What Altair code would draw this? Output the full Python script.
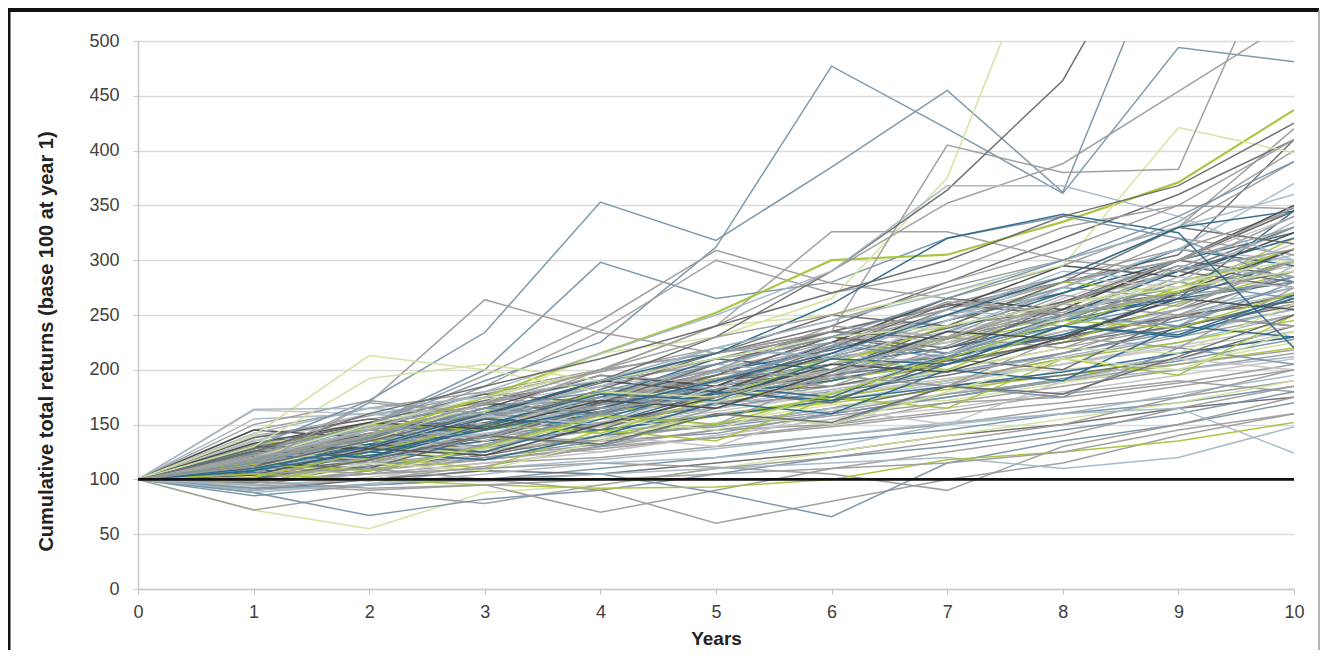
import altair as alt
import pandas as pd

years = list(range(11))

# ---- notable / outlier paths ----
outlier_values = [
    [100, 130, 172, 234, 353, 318, 385, 455, 362, 620, 700],
    [100, 118, 150, 190, 225, 312, 477, 420, 361, 494, 481],
    [100, 125, 150, 200, 298, 265, 280, 320, 340, 320, 280],
    [100, 118, 170, 264, 234, 215, 230, 255, 280, 300, 330],
    [100, 122, 150, 195, 245, 309, 279, 265, 250, 270, 300],
    [100, 115, 145, 185, 235, 300, 270, 290, 330, 350, 347],
    [100, 110, 140, 175, 200, 240, 326, 326, 300, 290, 310],
    [100, 115, 140, 175, 215, 252, 300, 305, 335, 371, 437],
    [100, 110, 135, 170, 215, 230, 265, 375, 640, 700, 700],
    [100, 120, 150, 175, 200, 240, 250, 270, 295, 421, 398],
    [100, 140, 213, 200, 180, 175, 200, 230, 260, 280, 300],
    [100, 130, 192, 205, 190, 210, 230, 240, 260, 275, 290],
    [100, 115, 140, 170, 200, 215, 235, 405, 380, 383, 620],
    [100, 112, 135, 160, 190, 230, 290, 364, 464, 650, 700],
    [100, 110, 130, 160, 200, 240, 290, 352, 388, 454, 520],
    [100, 120, 145, 180, 215, 250, 290, 368, 368, 340, 300],
    [100, 110, 130, 160, 190, 215, 260, 320, 342, 325, 220],
    [100, 72, 55, 88, 95, 110, 125, 140, 155, 170, 190],
    [100, 72, 88, 78, 95, 110, 120, 135, 150, 175, 200],
    [100, 88, 67, 82, 90, 105, 120, 130, 145, 160, 180],
    [100, 95, 90, 95, 70, 90, 110, 125, 140, 165, 185],
    [100, 105, 110, 100, 90, 60, 80, 100, 115, 140, 160],
    [100, 92, 95, 100, 105, 88, 66, 115, 135, 150, 170],
    [100, 98, 105, 110, 115, 111, 105, 90, 130, 150, 175],
    [100, 90, 95, 105, 115, 120, 130, 150, 160, 165, 124],
    [100, 95, 100, 98, 105, 110, 115, 120, 110, 120, 148],
    [100, 105, 100, 95, 92, 93, 100, 118, 125, 135, 152],
    [100, 98, 92, 95, 100, 105, 110, 115, 125, 145, 160],
    [100, 164, 165, 175, 190, 220, 245, 270, 300, 330, 360],
    [100, 125, 160, 185, 210, 240, 270, 300, 340, 368, 425],
    [100, 120, 140, 170, 200, 230, 250, 280, 310, 350, 410],
    [100, 115, 138, 165, 180, 205, 230, 265, 300, 340, 390],
    [100, 108, 125, 145, 165, 190, 215, 250, 285, 330, 345],
    [100, 112, 170, 160, 165, 175, 200, 230, 260, 300, 348],
]
outlier_colors = [
    "bg", "bg", "bg", "gray", "gray", "gray", "gray", "green", "pale", "pale",
    "pale", "pale", "gray", "graydk", "gray", "bgl", "teal", "pale", "gray", "bg",
    "gray", "gray", "bg", "gray", "bgl", "bgl", "green", "gray", "bgl", "graydk",
    "gray", "bg", "teal", "gray",
]

# ---- the dense bundle ----
bundle_values = [
    [100, 112, 125, 140, 152, 170, 185, 200, 220, 240, 260],
    [100, 95, 108, 120, 135, 142, 160, 175, 190, 215, 230],
    [100, 120, 135, 128, 150, 168, 190, 210, 235, 255, 285],
    [100, 105, 118, 130, 125, 140, 155, 178, 200, 210, 235],
    [100, 130, 145, 160, 175, 190, 205, 220, 240, 270, 300],
    [100, 92, 100, 112, 130, 145, 150, 170, 185, 200, 215],
    [100, 115, 140, 155, 165, 180, 210, 225, 245, 280, 310],
    [100, 108, 115, 132, 145, 160, 172, 188, 205, 225, 250],
    [100, 125, 150, 140, 165, 190, 200, 240, 255, 270, 290],
    [100, 102, 110, 118, 128, 138, 148, 160, 170, 185, 200],
    [100, 118, 130, 150, 170, 175, 195, 215, 230, 250, 275],
    [100, 135, 160, 170, 185, 200, 220, 240, 260, 290, 320],
    [100, 98, 105, 115, 120, 130, 140, 150, 165, 175, 190],
    [100, 110, 128, 145, 160, 182, 200, 230, 250, 265, 280],
    [100, 122, 138, 150, 148, 165, 180, 195, 215, 238, 265],
    [100, 88, 96, 110, 118, 128, 140, 152, 160, 178, 195],
    [100, 140, 155, 170, 190, 205, 230, 250, 280, 300, 345],
    [100, 112, 120, 135, 150, 158, 170, 182, 195, 205, 220],
    [100, 105, 125, 140, 158, 175, 192, 205, 225, 245, 270],
    [100, 128, 142, 165, 180, 200, 215, 235, 255, 275, 295],
    [100, 97, 112, 122, 140, 150, 165, 185, 195, 210, 240],
    [100, 118, 125, 138, 150, 170, 175, 190, 210, 230, 250],
    [100, 108, 135, 150, 170, 185, 205, 220, 245, 265, 300],
    [100, 115, 122, 130, 145, 150, 165, 178, 190, 200, 212],
    [100, 125, 140, 155, 178, 195, 210, 230, 250, 268, 280],
    [100, 103, 118, 128, 138, 152, 168, 172, 188, 205, 225],
    [100, 132, 150, 168, 172, 190, 212, 238, 262, 290, 330],
    [100, 110, 120, 138, 155, 165, 180, 198, 215, 235, 255],
    [100, 93, 102, 115, 125, 140, 155, 165, 180, 195, 210],
    [100, 120, 145, 160, 185, 210, 225, 250, 270, 300, 350],
    [100, 114, 130, 125, 140, 158, 175, 190, 210, 225, 245],
    [100, 107, 117, 140, 160, 178, 185, 205, 228, 250, 262],
    [100, 126, 135, 148, 165, 178, 198, 215, 232, 255, 275],
    [100, 100, 112, 120, 132, 145, 158, 170, 175, 188, 205],
    [100, 118, 140, 158, 175, 198, 218, 245, 270, 300, 325],
    [100, 109, 126, 130, 148, 162, 178, 192, 205, 222, 240],
    [100, 145, 165, 180, 200, 215, 235, 260, 285, 310, 345],
    [100, 104, 112, 125, 140, 148, 160, 175, 192, 208, 228],
    [100, 121, 132, 152, 168, 185, 200, 212, 230, 248, 268],
    [100, 112, 135, 145, 162, 172, 190, 208, 225, 260, 290],
    [100, 96, 108, 118, 130, 138, 150, 162, 178, 190, 180],
    [100, 128, 148, 172, 190, 210, 235, 258, 280, 305, 410],
    [100, 116, 128, 142, 155, 168, 182, 198, 212, 232, 255],
    [100, 106, 122, 135, 145, 158, 172, 185, 198, 215, 230],
    [100, 138, 158, 178, 198, 220, 245, 275, 300, 330, 390],
    [100, 111, 118, 132, 148, 165, 178, 190, 205, 220, 235],
    [100, 124, 140, 155, 168, 182, 195, 215, 240, 262, 285],
    [100, 101, 114, 126, 136, 150, 162, 178, 190, 205, 218],
    [100, 119, 137, 150, 165, 180, 195, 208, 225, 240, 258],
    [100, 131, 146, 162, 178, 192, 210, 228, 248, 272, 298],
    [100, 155, 160, 165, 175, 185, 205, 225, 250, 280, 305],
    [100, 163, 160, 150, 165, 180, 200, 215, 235, 250, 270],
    [100, 150, 172, 160, 175, 190, 210, 230, 255, 275, 310],
    [100, 85, 95, 100, 110, 120, 135, 145, 160, 170, 185],
    [100, 90, 100, 108, 105, 115, 125, 140, 150, 165, 175],
    [100, 113, 132, 148, 162, 178, 190, 212, 232, 265, 345],
    [100, 117, 127, 145, 175, 205, 230, 255, 285, 330, 420],
    [100, 123, 138, 160, 188, 215, 240, 280, 320, 360, 410],
    [100, 108, 128, 150, 172, 198, 222, 250, 275, 310, 370],
    [100, 114, 136, 156, 178, 200, 225, 265, 295, 335, 400],
    [100, 108, 98, 125, 140, 130, 165, 150, 190, 210, 200],
    [100, 125, 115, 140, 130, 160, 150, 185, 175, 220, 205],
    [100, 95, 120, 110, 145, 135, 175, 165, 210, 195, 250],
    [100, 130, 120, 155, 145, 180, 170, 210, 200, 250, 240],
    [100, 115, 135, 125, 160, 150, 195, 185, 230, 220, 275],
    [100, 100, 125, 118, 140, 170, 160, 200, 190, 240, 230],
    [100, 140, 130, 165, 150, 190, 215, 205, 250, 240, 295],
    [100, 110, 105, 130, 155, 145, 180, 200, 220, 215, 260],
    [100, 118, 142, 135, 170, 195, 230, 215, 260, 295, 280],
    [100, 132, 125, 160, 185, 175, 220, 250, 240, 285, 330],
    [100, 105, 140, 160, 150, 190, 205, 245, 275, 265, 310],
    [100, 122, 118, 148, 175, 210, 200, 235, 270, 310, 295],
    [100, 140, 150, 135, 165, 200, 235, 225, 265, 300, 340],
    [100, 112, 135, 170, 160, 185, 220, 260, 250, 290, 275],
    [100, 126, 150, 145, 180, 170, 205, 240, 280, 270, 320],
    [100, 98, 128, 150, 175, 165, 195, 230, 220, 255, 300],
    [100, 135, 160, 150, 190, 220, 210, 250, 290, 280, 335],
    [100, 115, 110, 140, 165, 195, 230, 220, 255, 300, 285],
    [100, 128, 145, 175, 165, 200, 240, 230, 275, 320, 305],
    [100, 108, 132, 125, 155, 185, 175, 215, 250, 290, 320],
    [100, 145, 138, 165, 195, 185, 225, 265, 255, 300, 350],
    [100, 118, 140, 165, 158, 190, 225, 215, 245, 280, 265],
    [100, 125, 118, 145, 178, 170, 205, 245, 285, 275, 315],
    [100, 102, 125, 150, 142, 175, 210, 200, 240, 275, 310],
    [100, 138, 155, 148, 182, 215, 250, 240, 280, 330, 315],
    [100, 112, 105, 132, 160, 192, 185, 222, 260, 250, 290],
    [100, 122, 148, 140, 172, 205, 195, 235, 275, 310, 300],
    [100, 130, 128, 158, 190, 180, 215, 255, 295, 285, 325],
    [100, 110, 130, 155, 150, 180, 172, 205, 240, 230, 265],
    [100, 120, 115, 140, 135, 165, 195, 185, 215, 250, 240],
    [100, 95, 115, 108, 135, 160, 150, 180, 210, 200, 235],
    [100, 128, 152, 178, 170, 205, 235, 228, 262, 300, 345],
    [100, 116, 138, 130, 162, 190, 222, 212, 250, 240, 280],
    [100, 136, 130, 158, 150, 185, 178, 215, 248, 285, 275],
    [100, 104, 128, 122, 150, 175, 205, 198, 230, 265, 255],
    [100, 124, 142, 168, 195, 188, 222, 262, 252, 292, 340],
    [100, 114, 108, 130, 158, 150, 178, 210, 245, 238, 270],
    [100, 142, 165, 158, 185, 220, 212, 255, 245, 295, 285],
    [100, 100, 118, 140, 132, 160, 152, 185, 178, 212, 250],
    [100, 126, 120, 150, 178, 172, 210, 205, 240, 232, 268],
    [100, 118, 145, 138, 168, 200, 192, 228, 268, 258, 300],
    [100, 133, 152, 146, 172, 165, 198, 235, 228, 270, 310],
    [100, 110, 132, 160, 152, 182, 215, 208, 242, 232, 275],
    [100, 120, 112, 138, 168, 162, 195, 188, 220, 258, 295],
]
bundle_colors = [
    "gray", "bg", "graydk", "grayl", "teal", "gray", "green", "bgl", "graydk", "gray",
    "bg", "grayl", "gray", "teal", "graydk", "bgl", "gray", "green", "bg", "grayl",
    "graydk", "gray", "teal", "bgl", "gray", "pale", "graydk", "bg", "grayl", "gray",
    "green", "graydk", "bgl", "gray", "teal", "grayl", "gray", "bg", "graydk", "green",
    "gray", "graydk", "bgl", "teal", "gray", "grayl", "bg", "gray", "graydk", "green",
    "bgl", "grayl", "gray", "bg", "graydk", "teal", "gray", "graydk", "bgl", "gray",
    "grayl", "bg", "green", "graydk", "gray", "teal", "bgl", "pale",
    "graydk", "gray", "bg", "teal", "grayl", "graydk", "green", "gray", "bgl", "graydk",
    "gray", "teal", "dark", "bg", "grayl", "green", "graydk", "gray", "bgl", "dark",
    "teal", "gray", "pale", "graydk", "bg", "grayl", "dark", "gray", "green", "bgl",
    "graydk", "teal", "gray", "dark",
]

base_values = [100, 100, 100, 100, 100, 100, 100, 100, 100, 100, 100]

color_domain = ["grayl", "gray", "graydk", "dark", "bgl", "bg", "teal", "green", "pale"]
color_range = ["#c3c3c3", "#9c9c9c", "#6a6a6a", "#4a4a4a", "#a3b7c5", "#7793a7", "#2b6888", "#a6c23a", "#d3e29b"]

rows = []
sid = 0
for vals, col in list(zip(bundle_values, bundle_colors)) + list(zip(outlier_values, outlier_colors)):
    w = 2.2 if (col == "green" and vals[10] == 437) else 1.5
    for yr, v in zip(years, vals):
        rows.append({"id": sid, "year": yr, "value": v, "grp": col, "w": w})
    sid += 1
df = pd.DataFrame(rows)
base_df = pd.DataFrame({"year": years, "value": base_values})

FONT = "Liberation Sans"

x_enc = alt.X(
    "year:Q",
    scale=alt.Scale(domain=[0, 10], nice=False),
    axis=alt.Axis(
        values=years, format="d", title="Years", grid=False, labelFlush=False,
        domainColor="#c8c8c8", domainWidth=1.5, tickColor="#c0c0c0", tickSize=5,
        labelColor="#404040", labelFontSize=18, labelFont=FONT, labelPadding=9,
        titleFont=FONT, titleFontSize=19, titleFontWeight="bold", titleColor="#222222",
        titlePadding=8,
    ),
)
y_enc = alt.Y(
    "value:Q",
    scale=alt.Scale(domain=[0, 500], nice=False),
    axis=alt.Axis(
        values=list(range(0, 501, 50)), labelFlush=False,
        title="Cumulative total returns (base 100 at year 1)",
        gridColor="#dadada", gridWidth=1.5,
        domainColor="#c8c8c8", domainWidth=1.5, tickColor="#c8c8c8", tickSize=5,
        labelColor="#404040", labelFontSize=18, labelFont=FONT, labelPadding=14,
        titleFont=FONT, titleFontSize=20, titleFontWeight="bold", titleColor="#222222",
        titleX=-92, titleY=300, titleAngle=270, titleAlign="center", titleBaseline="middle",
    ),
)

lines = alt.Chart(df).mark_line(clip=True, opacity=0.95).encode(
    x=x_enc,
    y=y_enc,
    detail="id:N",
    color=alt.Color("grp:N", scale=alt.Scale(domain=color_domain, range=color_range), legend=None),
    size=alt.Size("w:Q", scale=None, legend=None),
)

base = alt.Chart(base_df).mark_line(color="#111111", strokeWidth=2.6).encode(
    x="year:Q", y="value:Q"
)

one = pd.DataFrame({"k": [0]})
frame_top = alt.Chart(one).mark_rule(color="#111111", strokeWidth=4).encode(
    x=alt.value(-130), x2=alt.value(1181), y=alt.value(-31)
)
frame_left = alt.Chart(one).mark_rule(color="#111111", strokeWidth=3).encode(
    x=alt.value(-129), y=alt.value(-33), y2=alt.value(615)
)
frame_right = alt.Chart(one).mark_rule(color="#9a9a9a", strokeWidth=1.5).encode(
    x=alt.value(1181), y=alt.value(-31), y2=alt.value(615)
)

chart = (
    alt.layer(lines, base, frame_top, frame_left, frame_right)
    .properties(
        width=1156,
        height=548,
        padding={"left": 130, "top": 33, "right": 26, "bottom": 61},
        autosize=alt.AutoSizeParams(type="none"),
        background="white",
    )
    .configure_view(stroke=None)
)

chart.save("out.html", embed_options={"renderer": "svg", "actions": False})
